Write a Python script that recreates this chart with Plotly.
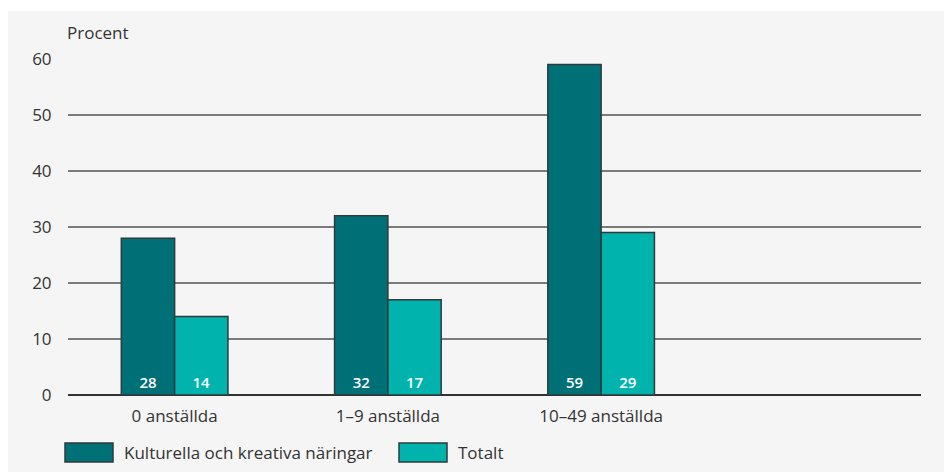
import plotly.graph_objects as go

categories = ["0 anställda", "1–9 anställda", "10–49 anställda"]
kultur = [28, 32, 59]
totalt = [14, 17, 29]
series_names = ["Kulturella och kreativa näringar", "Totalt"]
colors = ["#007077", "#00b3ad"]
yticks = [0, 10, 20, 30, 40, 50, 60]

x = list(range(len(categories)))
font = "Open Sans"
W, H = 853, 336  # plot area size in px

fig = go.Figure()
for name, vals, col in zip(series_names, [kultur, totalt], colors):
    fig.add_trace(go.Bar(
        x=x, y=vals, name=name, marker=dict(color=col, line=dict(color="#2e3a3c", width=1.5)),
        text=[str(v) for v in vals], textposition="inside", insidetextanchor="start",
        textfont=dict(color="white", size=15, family=font, weight=600), showlegend=False,
        textangle=0,
    ))

fig.update_layout(
    width=944, height=472,
    barmode="group", bargap=0.5, bargroupgap=0,
    paper_bgcolor="#f5f5f5", plot_bgcolor="#f5f5f5",
    margin=dict(l=68, r=23, t=59, b=77),
    font=dict(family=font, size=17, color="#333333"),
    uniformtext=dict(mode="show", minsize=10),
)
fig.update_xaxes(range=[-0.5, 3.5], tickvals=x, ticktext=categories, showgrid=False,
                 zeroline=False, showline=False, ticks="", tickfont=dict(size=17),
                 ticklabelstandoff=9)
fig.update_yaxes(range=[0, 60], tickvals=yticks, showgrid=True, gridcolor="#7a7a7a", gridwidth=1.5,
                 zeroline=True, zerolinecolor="#333333", zerolinewidth=2,
                 ticks="outside", ticklen=12, tickcolor="rgba(0,0,0,0)", tickfont=dict(size=17))

# white outer border (top and left) like the reference
fig.add_shape(type="rect", xref="paper", yref="paper", x0=-68 / W, x1=1 + 23 / W, y0=1 + 59 / H, y1=1 + 48 / H,
              fillcolor="white", line_width=0, layer="below")
fig.add_shape(type="rect", xref="paper", yref="paper", x0=-68 / W, x1=-60 / W, y0=-77 / H, y1=1 + 59 / H,
              fillcolor="white", line_width=0, layer="below")

fig.add_annotation(text="Procent", xref="paper", yref="paper", x=-3 / W, y=1 + 27 / H,
                   xanchor="left", yanchor="middle", showarrow=False, font=dict(size=17))

# legend drawn manually with wide swatches
legend_items = [(series_names[0], colors[0], 65), (series_names[1], colors[1], 399)]
for name, col, px in legend_items:
    fig.add_shape(type="rect", xref="paper", yref="paper", x0=(px - 68) / W, x1=(px + 48 - 68) / W,
                  y0=-(443 - 395) / H, y1=-(462 - 395) / H,
                  fillcolor=col, line=dict(color="#2e3a3c", width=1.5))
    fig.add_annotation(text=name, xref="paper", yref="paper", x=(px + 57 - 68) / W,
                       y=-(452 - 395) / H, xanchor="left", yanchor="middle",
                       showarrow=False, font=dict(size=17))

fig.write_html("out.html")
